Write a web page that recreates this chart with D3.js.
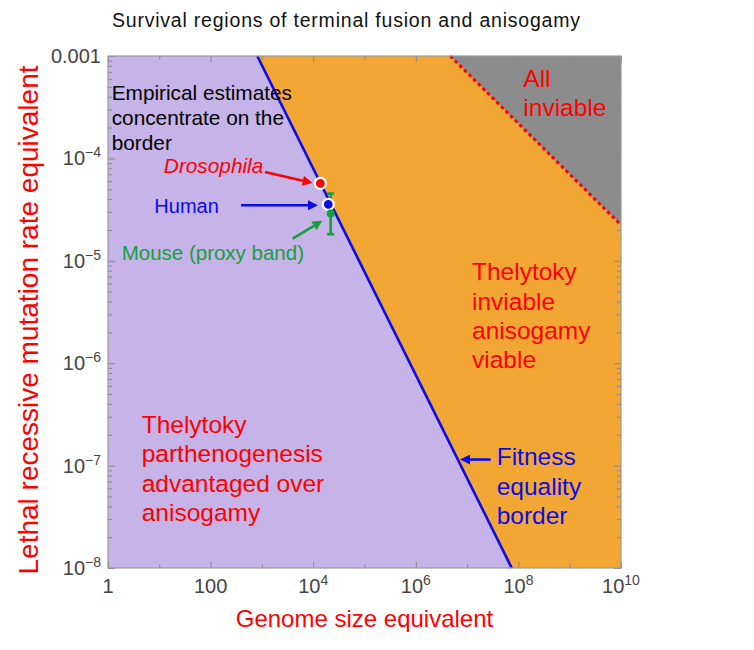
<!DOCTYPE html>
<html>
<head>
<meta charset="utf-8">
<script src="https://cdn.jsdelivr.net/npm/d3@7"></script>
<style>
  body { margin: 0; background: #fff; }
  svg { display: block; font-family: "Liberation Sans", Arial, sans-serif; }
</style>
</head>
<body>
<script>
const width = 754, height = 650;
const margin = { top: 56, right: 133, bottom: 82, left: 108 };

// axis ranges
const genomeDomain = [1, 1e10];
const mutationDomain = [1e-8, 1e-3];

// tick values and labels
const xTickValues = [1, 100, 1e4, 1e6, 1e8, 1e10];
const xTickBases = ["1", "100", "10", "10", "10", "10"];
const xTickExps = ["", "", "4", "6", "8", "10"];
const xMinorValues = [10, 1e3, 1e5, 1e7, 1e9];
const yTickValues = [1e-3, 1e-4, 1e-5, 1e-6, 1e-7, 1e-8];
const yTickBases = ["0.001", "10", "10", "10", "10", "10"];
const yTickExps = ["", "\u22124", "\u22125", "\u22126", "\u22127", "\u22128"];

// fitness equality border (blue) and all-inviable border (red dashed), endpoints
const equalityBorder = [[10 ** 2.91, 1e-3], [10 ** 7.87, 1e-8]];
const inviableBorder = [[10 ** 6.67, 1e-3], [1e10, 10 ** -4.65]];

// empirical estimates
const drosophila = { g: 1.38e4, mu: 5.7e-5 };
const human = { g: 1.97e4, mu: 3.56e-5 };
const mouse = { g: 2.19e4, mu: 2.89e-5, lo: 1.82e-5, hi: 4.53e-5 };

const colors = {
    purple: "#c6b3e8",
    orange: "#f2a735",
    grey: "#8c8c8c",
    blue: "#0b0be8",
    red: "#ff0000",
    green: "#12a13c"
};

const svg = d3.select("body").append("svg")
    .attr("width", width)
    .attr("height", height);

const x = d3.scaleLog().domain(genomeDomain).range([margin.left, width - margin.right]);
const y = d3.scaleLog().domain(mutationDomain).range([height - margin.bottom, margin.top]);
const x0 = x.range()[0], x1 = x.range()[1];
const yb = y.range()[0], yt = y.range()[1];

// regions
svg.append("rect")
    .attr("x", x0).attr("y", yt)
    .attr("width", x1 - x0).attr("height", yb - yt)
    .attr("fill", colors.orange);

const poly = pts => pts.map(p => [x(p[0]), y(p[1])].join(",")).join(" ");

svg.append("polygon")
    .attr("points", poly([[genomeDomain[0], mutationDomain[1]], equalityBorder[0], equalityBorder[1], [genomeDomain[0], mutationDomain[0]]]))
    .attr("fill", colors.purple);

svg.append("polygon")
    .attr("points", poly([inviableBorder[0], [genomeDomain[1], mutationDomain[1]], inviableBorder[1]]))
    .attr("fill", colors.grey);

// borders
const line = d3.line().x(d => x(d[0])).y(d => y(d[1]));

svg.append("path")
    .attr("d", line(equalityBorder))
    .attr("fill", "none")
    .attr("stroke", colors.blue)
    .attr("stroke-width", 2.6);

svg.append("path")
    .attr("d", line(inviableBorder))
    .attr("fill", "none")
    .attr("stroke", colors.red)
    .attr("stroke-width", 3)
    .attr("stroke-dasharray", "3.5,3");

// axes: ticks point inward on all four sides
const plotW = x1 - x0, plotH = yb - yt;
const tickStyle = g => {
    g.select(".domain").remove();
    g.selectAll("line").attr("stroke", "#888").attr("stroke-width", 1);
    g.selectAll("text").remove();
};

svg.append("g").attr("transform", `translate(0,${yb})`)
    .call(d3.axisBottom(x).tickValues(xTickValues).tickSize(-6)).call(tickStyle);
svg.append("g").attr("transform", `translate(0,${yb})`)
    .call(d3.axisBottom(x).tickValues(xMinorValues).tickSize(-4)).call(tickStyle);
svg.append("g").attr("transform", `translate(0,${yt})`)
    .call(d3.axisTop(x).tickValues(xTickValues).tickSize(-6)).call(tickStyle);
svg.append("g").attr("transform", `translate(0,${yt})`)
    .call(d3.axisTop(x).tickValues(xMinorValues).tickSize(-4)).call(tickStyle);

const yMinor = y.ticks().filter(v => !yTickValues.some(t => Math.abs(t - v) / t < 1e-6));
svg.append("g").attr("transform", `translate(${x0},0)`)
    .call(d3.axisLeft(y).tickValues(yTickValues).tickSize(-7)).call(tickStyle);
svg.append("g").attr("transform", `translate(${x0},0)`)
    .call(d3.axisLeft(y).tickValues(yMinor).tickSize(-4)).call(tickStyle);
svg.append("g").attr("transform", `translate(${x1},0)`)
    .call(d3.axisRight(y).tickValues(yTickValues).tickSize(-7)).call(tickStyle);
svg.append("g").attr("transform", `translate(${x1},0)`)
    .call(d3.axisRight(y).tickValues(yMinor).tickSize(-4)).call(tickStyle);

// frame
svg.append("rect")
    .attr("x", x0).attr("y", yt)
    .attr("width", plotW).attr("height", plotH)
    .attr("fill", "none")
    .attr("stroke", "#999")
    .attr("stroke-width", 1.2);

// tick labels
const xLabels = svg.selectAll(".xtick")
    .data(xTickValues)
    .enter()
    .append("text")
    .attr("class", "xtick")
    .attr("x", d => x(d))
    .attr("y", yb + 25)
    .attr("text-anchor", "middle")
    .attr("font-size", 20)
    .attr("fill", "#444");
xLabels.append("tspan").text((d, i) => xTickBases[i]);
xLabels.append("tspan").attr("dy", -8).attr("font-size", 14).text((d, i) => xTickExps[i]);

const yLabels = svg.selectAll(".ytick")
    .data(yTickValues)
    .enter()
    .append("text")
    .attr("class", "ytick")
    .attr("x", x0 - 7)
    .attr("y", d => y(d) + 7)
    .attr("text-anchor", "end")
    .attr("font-size", 20)
    .attr("fill", "#444");
yLabels.append("tspan").text((d, i) => yTickBases[i]);
yLabels.append("tspan").attr("dy", -8).attr("font-size", 14).text((d, i) => yTickExps[i]);

// axis titles and chart title
svg.append("text")
    .attr("x", (x0 + x1) / 2)
    .attr("y", 627)
    .attr("text-anchor", "middle")
    .attr("font-size", 24)
    .attr("fill", colors.red)
    .text("Genome size equivalent");

svg.append("text")
    .attr("transform", `translate(38,320) rotate(-90)`)
    .attr("text-anchor", "middle")
    .attr("font-size", 28)
    .attr("fill", colors.red)
    .text("Lethal recessive mutation rate equivalent");

svg.append("text")
    .attr("x", 112)
    .attr("y", 27)
    .attr("font-size", 19.5)
    .attr("textLength", 468)
    .attr("lengthAdjust", "spacing")
    .attr("fill", "#111")
    .text("Survival regions of terminal fusion and anisogamy");

// arrow markers
const defs = svg.append("defs");
for (const c of ["red", "blue", "green"]) {
    defs.append("marker")
        .attr("id", "head-" + c)
        .attr("viewBox", "0 0 10 10")
        .attr("refX", 0)
        .attr("refY", 5)
        .attr("markerUnits", "userSpaceOnUse")
        .attr("markerWidth", 11)
        .attr("markerHeight", 10)
        .attr("orient", "auto")
        .append("path")
        .attr("d", "M 0 0 L 10 5 L 0 10 Z")
        .attr("fill", colors[c]);
}

// annotation arrows (from, to) in log10 data units
const arrows = [
    { from: [3.06, -4.133], to: [4.006, -4.243], color: "red" },
    { from: [2.593, -4.458], to: [4.113, -4.458], color: "blue" },
    { from: [3.60, -4.783], to: [4.197, -4.604], color: "green" },
    { from: [7.46, -6.941], to: [6.842, -6.941], color: "blue" }
];

arrows.forEach(a => {
    const sx = x(10 ** a.from[0]), sy = y(10 ** a.from[1]);
    const tx = x(10 ** a.to[0]), ty = y(10 ** a.to[1]);
    const len = Math.hypot(tx - sx, ty - sy), head = 11;
    svg.append("line")
        .attr("x1", sx).attr("y1", sy)
        .attr("x2", tx - (tx - sx) / len * head)
        .attr("y2", ty - (ty - sy) / len * head)
        .attr("stroke", colors[a.color])
        .attr("stroke-width", 2.6)
        .attr("marker-end", `url(#head-${a.color})`);
});

// mouse proxy band
svg.append("line")
    .attr("x1", x(mouse.g)).attr("x2", x(mouse.g))
    .attr("y1", y(mouse.lo)).attr("y2", y(mouse.hi))
    .attr("stroke", colors.green)
    .attr("stroke-width", 2.6);
[mouse.lo, mouse.hi].forEach(v => {
    svg.append("line")
        .attr("x1", x(mouse.g) - 3.5).attr("x2", x(mouse.g) + 3.5)
        .attr("y1", y(v)).attr("y2", y(v))
        .attr("stroke", colors.green)
        .attr("stroke-width", 2.6);
});

// points
svg.append("circle")
    .attr("cx", x(drosophila.g)).attr("cy", y(drosophila.mu))
    .attr("r", 5.5)
    .attr("fill", colors.red)
    .attr("stroke", "#fff")
    .attr("stroke-width", 2.2);
svg.append("circle")
    .attr("cx", x(human.g)).attr("cy", y(human.mu))
    .attr("r", 5.5)
    .attr("fill", colors.blue)
    .attr("stroke", "#fff")
    .attr("stroke-width", 2.2);
svg.append("circle")
    .attr("cx", x(mouse.g)).attr("cy", y(mouse.mu))
    .attr("r", 4)
    .attr("fill", colors.green);

// text labels, anchored in log10 data units
const labels = [
    { lines: ["Empirical estimates", "concentrate on the", "border"], at: [0.072, -3.433], size: 20.8, lh: 25, color: "#000" },
    { lines: ["Drosophila"], at: [3.027, -4.143], size: 20.8, color: colors.red, anchor: "end", italic: true },
    { lines: ["Human"], at: [0.903, -4.533], size: 20, color: colors.blue },
    { lines: ["Mouse (proxy band)"], at: [0.267, -4.988], size: 20.5, color: colors.green },
    { lines: ["All", "inviable"], at: [8.096, -3.303], size: 24.5, lh: 29.3, color: colors.red },
    { lines: ["Thelytoky", "inviable", "anisogamy", "viable"], at: [7.096, -5.19], size: 24.5, lh: 29.3, color: colors.red },
    { lines: ["Thelytoky", "parthenogenesis", "advantaged over", "anisogamy"], at: [0.657, -6.682], size: 24.5, lh: 29.3, color: colors.red },
    { lines: ["Fitness", "equality", "border"], at: [7.577, -6.997], size: 24.5, lh: 29.3, color: colors.blue }
];

labels.forEach(l => {
    const t = svg.append("text")
        .attr("x", x(10 ** l.at[0]))
        .attr("y", y(10 ** l.at[1]))
        .attr("font-size", l.size)
        .attr("font-style", l.italic ? "italic" : "normal")
        .attr("text-anchor", l.anchor || "start")
        .attr("fill", l.color);
    l.lines.forEach((s, i) => {
        t.append("tspan")
            .attr("x", x(10 ** l.at[0]))
            .attr("dy", i === 0 ? 0 : l.lh)
            .text(s);
    });
});
</script>
</body>
</html>
